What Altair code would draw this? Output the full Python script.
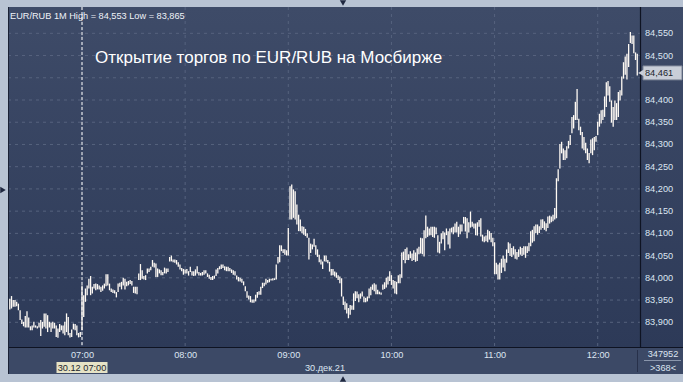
import altair as alt
import pandas as pd

# ---------------- data ----------------
start_minute = 6 * 60 + 18          # first 1-minute bar: 06:18

highs = [
    # 06:18 - 06:59
    83.953, 83.959, 83.950, 83.950, 83.946, 83.942, 83.927, 83.906, 83.901, 83.914,
    83.925, 83.911, 83.891, 83.893, 83.901, 83.893, 83.891, 83.899, 83.905, 83.901,
    83.920, 83.920, 83.916, 83.901, 83.899, 83.901, 83.899, 83.893, 83.886, 83.896,
    83.893, 83.893, 83.901, 83.920, 83.912, 83.876, 83.884, 83.897, 83.896, 83.893,
    83.876, 83.878,
    # 07:00 - 07:50
    83.983, 83.961, 83.976, 83.983, 83.998, 84.004, 83.980, 83.986, 83.987, 83.986,
    83.983, 83.980, 83.983, 83.987, 84.008, 84.008, 83.987, 83.976, 83.974, 83.972,
    83.968, 83.987, 83.989, 83.991, 84.000, 83.998, 83.991, 83.993, 83.995, 83.993,
    83.980, 83.980, 83.980, 84.010, 84.031, 84.017, 84.004, 84.006, 84.021, 84.021,
    84.025, 84.040, 84.034, 84.032, 84.021, 84.019, 84.017, 84.013, 84.023, 84.021,
    84.021,
    # 07:51 - 09:21
    84.047, 84.050, 84.041, 84.041, 84.040, 84.035, 84.030, 84.022, 84.020, 84.019,
    84.020, 84.015, 84.025, 84.015, 84.015, 84.019, 84.026, 84.013, 84.011, 84.013,
    84.017, 84.017, 84.010, 84.007, 84.002, 84.004, 84.005, 84.019, 84.022, 84.026,
    84.030, 84.030, 84.026, 84.025, 84.025, 84.022, 84.019, 84.017, 84.015, 84.005,
    84.002, 84.000, 83.998, 83.992, 83.981, 83.970, 83.960, 83.959, 83.951, 83.951,
    83.962, 83.968, 83.970, 83.980, 83.989, 83.989, 83.998, 83.995, 83.998, 83.998,
    83.999, 83.999, 84.030, 84.047, 84.073, 84.073, 84.064, 84.064, 84.062, 84.112,
    84.206, 84.210, 84.199, 84.195, 84.165, 84.142, 84.131, 84.116, 84.115, 84.110,
    84.100, 84.090, 84.077, 84.075, 84.088, 84.073, 84.064, 84.052, 84.041, 84.037,
    84.050,
    # 09:22 - 10:51
    84.050, 84.040, 84.036, 84.020, 84.020, 84.014, 84.012, 84.006, 84.003, 83.999,
    83.958, 83.947, 83.943, 83.932, 83.939, 83.938, 83.965, 83.970, 83.969, 83.963,
    83.965, 83.969, 83.958, 83.955, 83.958, 83.976, 83.980, 83.985, 83.988, 83.985,
    83.973, 83.969, 83.967, 83.985, 83.990, 84.000, 84.003, 84.015, 84.006, 83.995,
    83.993, 83.991, 84.006, 84.008, 84.057, 84.059, 84.065, 84.068, 84.053, 84.060,
    84.055, 84.062, 84.057, 84.066, 84.070, 84.090, 84.089, 84.107, 84.140, 84.115,
    84.111, 84.115, 84.115, 84.115, 84.113, 84.096, 84.081, 84.100, 84.105, 84.102,
    84.111, 84.105, 84.111, 84.113, 84.115, 84.122, 84.126, 84.115, 84.120, 84.120,
    84.137, 84.137, 84.134, 84.125, 84.149, 84.126, 84.122, 84.122, 84.125, 84.130,
    # 10:52 - 12:23
    84.134, 84.097, 84.093, 84.095, 84.108, 84.105, 84.101, 84.090, 84.080, 84.034,
    84.030, 84.034, 84.043, 84.050, 84.043, 84.064, 84.080, 84.077, 84.067, 84.071,
    84.064, 84.058, 84.064, 84.070, 84.067, 84.071, 84.071, 84.071, 84.079, 84.105,
    84.108, 84.116, 84.120, 84.120, 84.116, 84.131, 84.132, 84.127, 84.123, 84.138,
    84.140, 84.138, 84.142, 84.157, 84.224, 84.244, 84.301, 84.306, 84.291, 84.287,
    84.296, 84.308, 84.321, 84.362, 84.366, 84.396, 84.425, 84.358, 84.340, 84.328,
    84.317, 84.304, 84.291, 84.281, 84.311, 84.314, 84.317, 84.319, 84.351, 84.369,
    84.377, 84.378, 84.408, 84.440, 84.443, 84.431, 84.399, 84.384, 84.399, 84.393,
    84.418, 84.422, 84.453, 84.485, 84.498, 84.504, 84.526, 84.553, 84.545, 84.545,
    84.507, 84.504,
]

lows = [
    # 06:18 - 06:59
    83.929, 83.931, 83.935, 83.935, 83.936, 83.927, 83.905, 83.896, 83.891, 83.888,
    83.888, 83.888, 83.882, 83.882, 83.888, 83.888, 83.886, 83.888, 83.869, 83.886,
    83.890, 83.886, 83.878, 83.888, 83.878, 83.886, 83.886, 83.867, 83.865, 83.878,
    83.882, 83.875, 83.871, 83.878, 83.871, 83.866, 83.867, 83.884, 83.882, 83.871,
    83.866, 83.867,
    # 07:00 - 07:50
    83.882, 83.912, 83.946, 83.961, 83.976, 83.961, 83.965, 83.976, 83.972, 83.974,
    83.974, 83.968, 83.971, 83.976, 83.981, 83.983, 83.972, 83.968, 83.966, 83.965,
    83.956, 83.968, 83.980, 83.974, 83.983, 83.974, 83.981, 83.983, 83.986, 83.983,
    83.966, 83.965, 83.963, 83.995, 83.995, 83.998, 83.996, 83.995, 84.010, 84.013,
    84.017, 84.025, 84.023, 84.002, 84.002, 84.010, 84.006, 84.006, 84.010, 84.010,
    84.013,
    # 07:51 - 09:21
    84.037, 84.037, 84.035, 84.034, 84.030, 84.025, 84.019, 84.015, 84.007, 84.010,
    84.010, 84.005, 84.013, 84.005, 84.004, 84.005, 84.010, 84.005, 84.005, 84.005,
    84.007, 84.010, 84.002, 83.998, 83.995, 83.995, 83.998, 84.004, 84.010, 84.019,
    84.020, 84.022, 84.017, 84.015, 84.015, 84.015, 84.011, 84.007, 84.005, 83.996,
    83.992, 83.992, 83.989, 83.983, 83.970, 83.955, 83.951, 83.945, 83.944, 83.944,
    83.947, 83.955, 83.962, 83.962, 83.977, 83.981, 83.985, 83.989, 83.990, 83.994,
    83.994, 83.995, 83.996, 84.032, 84.035, 84.060, 84.056, 84.052, 84.050, 84.050,
    84.131, 84.131, 84.135, 84.131, 84.120, 84.105, 84.105, 84.100, 84.097, 84.094,
    84.090, 84.041, 84.056, 84.064, 84.070, 84.052, 84.047, 84.035, 84.030, 84.020,
    84.037,
    # 09:22 - 10:51
    84.036, 84.033, 84.014, 84.005, 84.006, 84.003, 84.000, 83.995, 83.988, 83.958,
    83.939, 83.928, 83.920, 83.909, 83.917, 83.928, 83.928, 83.948, 83.954, 83.945,
    83.953, 83.958, 83.945, 83.945, 83.947, 83.954, 83.961, 83.973, 83.970, 83.963,
    83.963, 83.963, 83.962, 83.973, 83.975, 83.978, 83.985, 83.993, 83.984, 83.976,
    83.965, 83.963, 83.988, 83.988, 84.000, 84.040, 84.033, 84.040, 84.040, 84.044,
    84.038, 84.040, 84.036, 84.038, 84.053, 84.055, 84.053, 84.048, 84.089, 84.092,
    84.095, 84.096, 84.092, 84.090, 84.098, 84.057, 84.055, 84.077, 84.087, 84.062,
    84.096, 84.075, 84.066, 84.102, 84.098, 84.102, 84.102, 84.092, 84.098, 84.104,
    84.122, 84.104, 84.089, 84.102, 84.113, 84.115, 84.111, 84.096, 84.095, 84.115,
    # 10:52 - 12:23
    84.093, 84.082, 84.080, 84.082, 84.080, 84.086, 84.080, 84.071, 84.008, 84.008,
    83.996, 83.996, 84.011, 84.023, 84.015, 84.034, 84.056, 84.049, 84.047, 84.052,
    84.043, 84.041, 84.047, 84.052, 84.049, 84.052, 84.045, 84.056, 84.060, 84.071,
    84.079, 84.082, 84.101, 84.097, 84.101, 84.108, 84.112, 84.108, 84.105, 84.112,
    84.122, 84.125, 84.127, 84.131, 84.134, 84.217, 84.246, 84.280, 84.265, 84.265,
    84.269, 84.291, 84.299, 84.325, 84.336, 84.355, 84.355, 84.332, 84.321, 84.291,
    84.287, 84.280, 84.265, 84.258, 84.280, 84.276, 84.287, 84.306, 84.321, 84.340,
    84.347, 84.355, 84.362, 84.384, 84.410, 84.396, 84.349, 84.340, 84.355, 84.355,
    84.362, 84.399, 84.410, 84.448, 84.457, 84.446, 84.474, 84.528, 84.526, 84.505,
    84.490, 84.455,
]

y_ticks = [round(83.90 + 0.05 * i, 2) for i in range(14)]      # 83,900 ... 84,550 (grid)
hidden_label = 84.45                                             # covered by the last-price tag
hour_ticks = [420, 480, 540, 600, 660, 720]                      # 07:00 ... 12:00 (minutes)

header = "EUR/RUB 1M High = 84,553 Low = 83,865"
annotation = "Открытие торгов по EUR/RUB на Мосбирже"
last_close = 84.461
last_close_text = "84,461"
cursor_minute = 420
cursor_label = "30.12 07:00"
date_label = "30.дек.21"
volume_label = "347952"
bars_label = ">368<"

# ---------------- chart ----------------
W, H = 632, 340
FONT = "Liberation Sans"
LABEL = "#dce5f1"

bars = pd.DataFrame({
    "minute": [start_minute + i for i in range(len(highs))],
    "high": highs,
    "low": lows,
})
ticks_df = pd.DataFrame({"v": y_ticks})
one = pd.DataFrame({"k": [0]})

xscale = alt.Scale(domain=[376.95, 744.6], nice=False, zero=False)
yscale = alt.Scale(domain=[83.8444, 84.6092], nice=False, zero=False)

grad = alt.LinearGradient(
    gradient="linear",
    stops=[alt.GradientStop(color="#3e4b68", offset=0),
           alt.GradientStop(color="#2d3a58", offset=1)],
    x1=0, x2=0, y1=0, y2=1,
)

xaxis = alt.Axis(
    orient="bottom", values=hour_ticks,
    labelExpr="(floor(datum.value/60) < 10 ? '0' : '') + floor(datum.value/60) + ':' + "
              "(datum.value % 60 < 10 ? '0' : '') + (datum.value % 60)",
    labelColor=LABEL, labelFont=FONT, labelFontSize=9.2, labelPadding=3,
    ticks=False, tickSize=0, domain=False, grid=False, title=None,
    labelFlush=False, labelOverlap=False, zindex=1)

bg = alt.Chart(one).mark_rect(color=grad).encode(
    x=alt.value(0), x2=alt.value(675), y=alt.value(0), y2=alt.value(H))

bottom_panel = alt.Chart(one).mark_rect(color="#3c4966").encode(
    x=alt.value(0), x2=alt.value(675), y=alt.value(H + 1), y2=alt.value(H + 27))

hgrid = alt.Chart(ticks_df).mark_rule(
    color="#56637e", strokeDash=[3, 4], strokeWidth=1).encode(
    y=alt.Y("v:Q", scale=yscale, axis=None), x=alt.value(0), x2=alt.value(W))

vgrid = alt.Chart(pd.DataFrame({"h": hour_ticks})).mark_rule(
    color="#56637e", strokeDash=[3, 4], strokeWidth=1).encode(
    x=alt.X("h:Q", scale=xscale, axis=xaxis), y=alt.value(0), y2=alt.value(H))

cursor = alt.Chart(one).mark_rule(color="#ffffff", strokeDash=[3, 2], strokeWidth=1).encode(
    x=alt.XDatum(cursor_minute, type="quantitative", scale=xscale),
    y=alt.value(0), y2=alt.value(H))

ohlc = alt.Chart(bars).mark_rule(color="#fffaf4", strokeWidth=1.3).encode(
    x=alt.X("minute:Q", scale=xscale, axis=xaxis),
    y=alt.Y("high:Q", scale=yscale, axis=None),
    y2="low:Q")

# price scale labels on the right (84,450 sits under the price tag, so it is not drawn)
ylabels = alt.Chart(ticks_df).transform_filter(
    f"abs(datum.v - {hidden_label}) > 0.001"
).transform_calculate(
    lbl="replace(format(datum.v, '.3f'), '.', ',')"
).mark_text(align="left", baseline="middle", font=FONT, fontSize=9.2, color=LABEL).encode(
    x=alt.value(W + 5), y=alt.Y("v:Q", scale=yscale, axis=None), text="lbl:N")

frame_h = alt.Chart(one).mark_rule(color="#0e1322", strokeWidth=1.2).encode(
    x=alt.value(0), x2=alt.value(675), y=alt.value(H + 0.5))
frame_v = alt.Chart(one).mark_rule(color="#0e1322", strokeWidth=1.2).encode(
    x=alt.value(W + 0.5), y=alt.value(0), y2=alt.value(H))
frame_l = alt.Chart(one).mark_rule(color="#1a2135", strokeWidth=1).encode(
    x=alt.value(0.5), y=alt.value(0), y2=alt.value(H + 27))
sep_v = alt.Chart(one).mark_rule(color="#27304a", strokeWidth=1).encode(
    x=alt.value(629.5), y=alt.value(H + 3), y2=alt.value(H + 25))
sep_h = alt.Chart(one).mark_rule(color="#8a96ac", strokeWidth=1).encode(
    x=alt.value(636), x2=alt.value(673), y=alt.value(H + 13.5))

tag_box = alt.Chart(one).mark_rect(
    color="#c9ced8", stroke="#7b8394", strokeWidth=1, yOffset=-7, y2Offset=7).encode(
    x=alt.value(635), x2=alt.value(674),
    y=alt.YDatum(last_close, type="quantitative", scale=yscale),
    y2=alt.Y2Datum(last_close))
tag_arrow = alt.Chart(one).mark_point(
    shape="triangle-left", filled=True, color="#c9ced8", size=45, opacity=1).encode(
    x=alt.value(633), y=alt.YDatum(last_close, type="quantitative", scale=yscale))
tag_text = alt.Chart(one).mark_text(
    align="left", baseline="middle", font=FONT, fontSize=9.2, color="#1b1f2c").encode(
    x=alt.value(637), y=alt.YDatum(last_close, type="quantitative", scale=yscale),
    text=alt.value(last_close_text))

cursor_box = alt.Chart(one).mark_rect(
    color="#e6e3c6", xOffset=-25.5, x2Offset=25.5).encode(
    x=alt.XDatum(cursor_minute, type="quantitative", scale=xscale),
    x2=alt.X2Datum(cursor_minute), y=alt.value(H + 15), y2=alt.value(H + 26))
cursor_text = alt.Chart(one).mark_text(
    align="center", baseline="alphabetic", font=FONT, fontSize=9.2, color="#1b1f2c").encode(
    x=alt.XDatum(cursor_minute, type="quantitative", scale=xscale),
    y=alt.value(H + 24), text=alt.value(cursor_label))

def label(txt, x, y, size=9.2, color=LABEL, align="center"):
    return alt.Chart(one).mark_text(
        align=align, baseline="alphabetic", font=FONT, fontSize=size, color=color).encode(
        x=alt.value(x), y=alt.value(y), text=alt.value(txt))

date_txt = label(date_label, 317, H + 24)
vol_txt = label(volume_label, 655, H + 10)
bars_txt = label(bars_label, 655, H + 23.5)
header_txt = label(header, 2, 12, size=9.2, color="#eef2f8", align="left")
annot_txt = label(annotation, 87, 56, size=17, color="#ffffff", align="left")

def tri(shape, x, y):
    return alt.Chart(one).mark_point(
        shape=shape, filled=True, color="#1f2840", size=40, opacity=1).encode(
        x=alt.value(x), y=alt.value(y))

tri_top = tri("triangle-down", 335, -4)
tri_bottom = tri("triangle-up", 335, H + 32)
tri_left = tri("triangle-right", -5, 183)

chart = alt.layer(
    bg, bottom_panel, hgrid, vgrid, cursor, ohlc, ylabels,
    frame_h, frame_v, frame_l, sep_v, sep_h,
    tag_box, tag_arrow, tag_text, cursor_box, cursor_text,
    date_txt, vol_txt, bars_txt, header_txt, annot_txt,
    tri_top, tri_bottom, tri_left,
).properties(
    width=W, height=H,
    padding={"left": 8, "top": 7, "right": 43, "bottom": 35},
    autosize=alt.AutoSizeParams(type="none"),
).configure(
    background="#b8c3d3",
).configure_view(
    strokeWidth=0,
)

chart.save("out.html", embed_options={"renderer": "svg", "actions": False})
